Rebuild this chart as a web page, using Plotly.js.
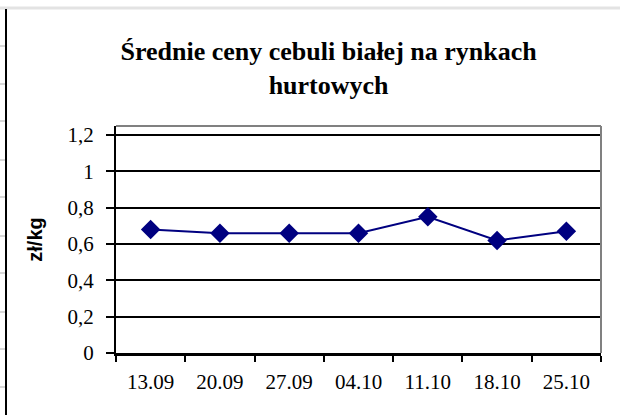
<!DOCTYPE html>
<html>
<head>
<meta charset="utf-8">
<script src="https://cdn.plot.ly/plotly-3.0.1.min.js"></script>
<style>html,body{margin:0;padding:0;background:#fff;}#chart{width:620px;height:415px;}</style>
</head>
<body>
<div id="chart"></div>
<script>
const categories = ["13.09", "20.09", "27.09", "04.10", "11.10", "18.10", "25.10"];
const prices = [0.68, 0.66, 0.66, 0.66, 0.75, 0.62, 0.67];
const yTickVals = [0, 0.2, 0.4, 0.6, 0.8, 1, 1.2];
const yTickText = ["0", "0,2", "0,4", "0,6", "0,8", "1", "1,2"];
const titleText = "Średnie ceny cebuli białej na rynkach<br>hurtowych";
const yTitle = "zł/kg";

const SERIF = "Liberation Serif";
const SANS = "Liberation Sans";

const trace = {
  x: categories,
  y: prices,
  type: "scatter",
  mode: "lines+markers",
  line: {color: "#000080", width: 2},
  marker: {symbol: "diamond", size: 15, color: "#000080", line: {width: 0}},
  hoverinfo: "x+y"
};

const layout = {
  width: 620,
  height: 415,
  margin: {l: 116, r: 19, t: 126, b: 62},
  paper_bgcolor: "#ffffff",
  plot_bgcolor: "#ffffff",
  showlegend: false,
  title: {
    text: titleText,
    font: {family: SERIF, size: 26, color: "#000", weight: "bold"},
    x: 0.53, xanchor: "center", xref: "container",
    y: 0.856, yanchor: "middle", yref: "container"
  },
  xaxis: {
    type: "category",
    range: [-0.5, 6.5],
    showgrid: false,
    zeroline: false,
    showline: true, linecolor: "#000", linewidth: 3,
    ticks: "outside", ticklen: 6, tickwidth: 2, tickcolor: "#000",
    tickson: "boundaries",
    ticklabelstandoff: 8,
    tickfont: {family: SERIF, size: 21, color: "#000"},
    fixedrange: true
  },
  yaxis: {
    range: [0, 1.25],
    tickvals: yTickVals,
    ticktext: yTickText,
    showgrid: true, gridcolor: "#000", gridwidth: 2,
    zeroline: false,
    showline: true, linecolor: "#000", linewidth: 2,
    ticks: "outside", ticklen: 8, tickwidth: 2, tickcolor: "#000",
    ticklabelstandoff: 8,
    tickfont: {family: SERIF, size: 21, color: "#000"},
    title: {text: yTitle, font: {family: SANS, size: 20, color: "#000", weight: "bold"}, standoff: 20},
    fixedrange: true
  },
  shapes: []
};

const W = 620, H = 415, L = 116, R = 19, T = 126, B = 62;
const pw = W - L - R, ph = H - T - B;
function px(x){ return (x - L) / pw; }
function py(y){ return (H - B - y) / ph; }

// plot-area border (gray, top and right)
layout.shapes.push({type: "line", xref: "paper", yref: "paper", x0: 0, x1: 1, y0: 1, y1: 1, line: {color: "#808080", width: 2}});
layout.shapes.push({type: "line", xref: "paper", yref: "paper", x0: 1, x1: 1, y0: 0, y1: 1, line: {color: "#808080", width: 2}});
// page frame
layout.shapes.push({type: "line", xref: "paper", yref: "paper", x0: px(0), x1: px(620), y0: py(8), y1: py(8), line: {color: "#e3e3e3", width: 3}});
layout.shapes.push({type: "line", xref: "paper", yref: "paper", x0: px(6), x1: px(6), y0: py(9), y1: py(415), line: {color: "#000", width: 2}});
const marks = [46, 84, 121, 160, 197, 236, 273, 312, 349, 387];
marks.forEach(function(m){
  layout.shapes.push({type: "line", xref: "paper", yref: "paper", x0: px(0), x1: px(5), y0: py(m), y1: py(m), line: {color: "#d8d8d8", width: 2}});
});

Plotly.newPlot("chart", [trace], layout, {displayModeBar: false, staticPlot: true});
</script>
</body>
</html>
